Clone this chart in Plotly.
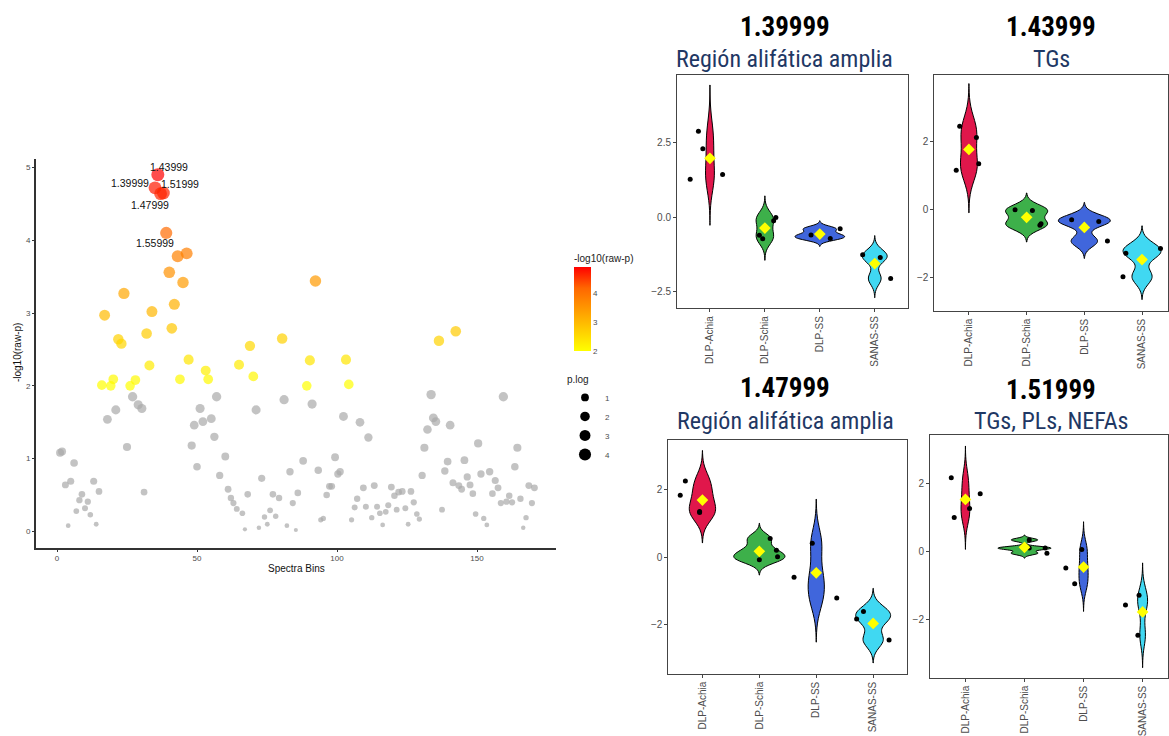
import numpy as np
import plotly.graph_objects as go

# ---------------- Data: Manhattan-style scatter ----------------
bins = [1.1, 1.8, 3.0, 4.0, 4.9, 6.1, 6.9, 8.0, 8.9, 10.0,
        11.0, 11.9, 13.1, 14.0, 15.0, 16.0, 17.0, 18.0, 19.2, 20.1,
        21.0, 21.9, 23.0, 23.9, 25.0, 26.1, 27.0, 28.0, 29.0, 30.3,
        31.1, 32.0, 33.0, 33.9, 35, 36, 37, 38, 39, 40.1,
        41.0, 41.9, 43.1, 43.9, 45.0, 46.3, 47.0, 48.1, 49.0, 50.0,
        51.1, 52.1, 53.1, 54.0, 55.1, 56.2, 57.0, 58.1, 60.1, 61.1,
        62.1, 63.0, 64.2, 65.0, 66.2, 67.1, 68.1, 68.9, 70.1, 71.1,
        72.1, 73.1, 74.1, 75.1, 76.1, 77.1, 78.1, 79.3, 80.4, 81.1,
        82.1, 83.2, 84.2, 85.3, 86.0, 87.9, 89.2, 90.3, 91.1, 92.3,
        93.3, 94.2, 95.1, 96.3, 97.3, 98.1, 99.3, 100.3, 101.1, 102.3,
        103.2, 104.2, 105.2, 106.3, 107.2, 108.2, 109.4, 110.3, 111.2, 112.4,
        113.3, 114.3, 115.3, 116.3, 117.4, 118.3, 119.4, 120.5, 121.3, 122.0,
        123.3, 124.4, 125.4, 126.4, 127.4, 128.5, 129.4, 130.4, 131.2, 132.3,
        133.6, 134.4, 135.3, 136.4, 137.5, 138.5, 139.5, 140.4, 141.4, 142.4,
        143.5, 144.5, 145.5, 146.5, 147.5, 148.5, 149.5, 150.4, 151.4, 152.4,
        153.5, 154.5, 155.5, 156.5, 157.5, 158.5, 159.4, 160.5, 161.5, 162.5,
        163.5, 164.4, 165.5, 166.5, 167.5, 168.5, 169.6, 170.5]
neglogp = [1.08, 1.10, 0.64, 0.08, 0.69, 0.94, 0.28, 0.43, 0.51, 0.32,
           0.41, 0.23, 0.69, 0.10, 0.55, 2.01, 2.97, 1.54, 2.00, 2.09,
           1.67, 2.64, 2.58, 3.27, 1.16, 2.00, 1.85, 2.08, 1.74, 1.69,
           0.54, 2.72, 2.28, 3.02, 4.72, 4.90, 4.64, 4.65, 4.10, 3.56,
           2.79, 3.12, 3.78, 2.09, 3.42, 3.82, 2.36, 1.18, 1.46, 0.89,
           1.69, 1.51, 2.21, 2.09, 1.55, 1.30, 1.85, 0.77, 1.03, 0.58,
           0.46, 0.39, 0.31, 2.29, 0.25, 0.03, 0.51, 2.55, 2.13, 1.67,
           0.05, 0.73, 0.20, 0.10, 0.29, 0.51, 0.21, 0.46, 2.65, 1.81,
           0.08, 0.82, 0.39, 0.02, 0.53, 0.97, 2.00, 2.35, 1.75, 3.44,
           0.84, 0.16, 0.18, 0.50, 0.62, 0.62, 1.02, 0.79, 0.82, 1.58,
           2.36, 2.02, 0.16, 0.33, 0.45, 1.50, 0.60, 0.34, 1.29, 0.19,
           0.63, 0.34, 0.25, 0.09, 0.27, 0.36, 0.61, 0.49, 0.30, 0.54,
           0.55, 0.32, 0.10, 0.55, 0.40, 0.24, 0.17, 0.77, 1.15, 1.40,
           1.88, 1.56, 1.51, 2.62, 0.30, 0.83, 0.96, 1.46, 0.67, 2.75,
           0.63, 0.58, 0.98, 0.75, 0.64, 0.52, 0.24, 1.21, 0.79, 0.18,
           0.09, 0.82, 0.52, 0.70, 0.60, 0.39, 1.85, 0.41, 0.49, 0.40,
           0.89, 1.15, 0.45, 0.05, 0.19, 0.63, 0.39, 0.60]
label_bins = [35, 36, 37, 38, 39]
label_text = ["1.39999", "1.43999", "1.47999", "1.51999", "1.55999"]
size_legend = [1, 2, 3, 4]
sig_threshold = 2.0

# ---------------- Data: violin panels ----------------
groups = ["DLP-Achia", "DLP-Schia", "DLP-SS", "SANAS-SS"]
panel_titles = ["1.39999", "1.43999", "1.47999", "1.51999"]
panel_subtitles = ["Región alifática amplia", "TGs", "Región alifática amplia", "TGs, PLs, NEFAs"]

p1_values = [[1.28, 2.90, 2.31, 1.44], [-0.61, -0.73, -0.12, -0.01],
             [-0.60, -0.72, -0.39], [-1.27, -1.36, -2.07]]
p2_values = [[2.44, 2.11, 1.34, 1.15], [-0.02, -0.04, -0.47, -0.43],
             [-0.31, -0.36, -0.94], [-1.30, -1.99, -1.16]]
p3_values = [[1.84, 2.27, 1.33, 1.36], [-0.08, 0.55, 0.20, 0.01],
             [-0.60, 0.41, -1.22], [-1.85, -1.62, -2.47]]
p4_values = [[2.18, 1.01, 1.28, 1.71], [0.35, 0.11, 0.11, -0.04],
             [-0.48, -0.94, 0.07], [-1.57, -1.28, -2.46]]

# horizontal jitter of the dots (presentation only)
p1_jitter = [[-0.36, -0.21, -0.13, 0.23], [-0.10, -0.04, 0.16, 0.20],
             [-0.16, 0.19, 0.37], [-0.22, 0.10, 0.29]]
p2_jitter = [[-0.16, 0.13, 0.17, -0.22], [-0.20, 0.10, 0.23, 0.25],
             [-0.22, 0.25, 0.40], [-0.28, -0.33, 0.32]]
p3_jitter = [[-0.39, -0.30, -0.05, -0.05], [0.0, 0.19, 0.30, 0.32],
             [-0.39, -0.07, 0.36], [-0.29, -0.17, 0.28]]
p4_jitter = [[-0.24, -0.19, 0.07, 0.25], [0.08, 0.08, 0.35, 0.38],
             [-0.30, -0.15, -0.03], [-0.29, -0.06, -0.08]]

# ---------------- Styling ----------------
W, H = 1169, 736
FONT = "Liberation Sans, Arial, sans-serif"
NARROW = "Roboto Condensed, Liberation Sans Narrow, Arial Narrow, Liberation Sans, sans-serif"
GRAY_TXT = "#4D4D4D"
violin_colors = ["#E0174B", "#3DB04A", "#4066DC", "#40D8F2"]
colorscale = [[0, "#FFFF00"], [0.25, "#FFCC00"], [0.5, "#FF9900"], [0.75, "#FF6600"], [1, "#FF0000"]]


def fx(px):
    return px / W


def fy(py):
    return 1 - py / H


def msize(v):
    return 3.5 + 4.3 * np.sqrt(np.asarray(v, dtype=float))


fig = go.Figure()

b = np.array(bins)
p = np.array(neglogp)
ns = p < sig_threshold
sg = ~ns

fig.add_trace(go.Scatter(
    x=b[ns], y=p[ns], mode="markers", xaxis="x", yaxis="y",
    marker=dict(color="#A9A9A9", size=msize(p[ns]), line=dict(width=0)),
    showlegend=False, hoverinfo="x+y"))
fig.add_trace(go.Scatter(
    x=b[sg], y=p[sg], mode="markers", xaxis="x", yaxis="y",
    marker=dict(color=p[sg], colorscale=colorscale, cmin=p[sg].min(), cmax=p[sg].max(),
                size=msize(p[sg]), line=dict(width=0),
                colorbar=dict(x=fx(574), xanchor="left", y=fy(354), yanchor="bottom",
                              len=100, lenmode="pixels", thickness=17, outlinewidth=0,
                              xpad=0, ypad=0, tickvals=[2, 3, 4], ticks="",
                              tickfont=dict(size=8, color=GRAY_TXT, family=FONT),
                              title=dict(text="-log10(raw-p)", side="top",
                                         font=dict(size=10, color="#222", family=FONT)))),
    showlegend=False, hoverinfo="x+y"))

# size legend entries
for v in size_legend:
    fig.add_trace(go.Scatter(
        x=[None], y=[None], mode="markers", xaxis="x", yaxis="y", name=str(v),
        marker=dict(color="black", size=float(msize(v))), showlegend=True))

# point labels
label_shift = {"1.39999": (-25, 5), "1.43999": (11, 8), "1.47999": (-11, -11),
               "1.51999": (17, 9), "1.55999": (-11, -10)}
for lb, lt in zip(label_bins, label_text):
    yv = p[list(bins).index(lb)]
    dx, dy = label_shift[lt]
    fig.add_annotation(x=lb, y=yv, xref="x", yref="y", text=lt, showarrow=False,
                       xanchor="center", yanchor="middle",
                       xshift=dx, yshift=dy, font=dict(size=10.5, color="#111", family=FONT))

# axis titles of scatter
fig.add_annotation(x=fx(296), y=fy(573), xref="paper", yref="paper", text="Spectra Bins",
                   xanchor="center", yanchor="middle",
                   showarrow=False, font=dict(size=10, color="#111", family=FONT))
fig.add_annotation(x=fx(17), y=fy(356), xref="paper", yref="paper", text="-log10(raw-p)",
                   xanchor="center", yanchor="middle",
                   textangle=-90, showarrow=False, font=dict(size=10, color="#111", family=FONT))

layout_axes = dict(
    xaxis=dict(domain=[fx(36), fx(556)], range=[-7.5, 178.2], tickvals=[0, 50, 100, 150],
               showline=True, linecolor="#333", linewidth=2, ticks="outside", ticklen=2,
               tickcolor="#333", showgrid=False, zeroline=False, anchor="y",
               tickfont=dict(size=8, color=GRAY_TXT, family=FONT)),
    yaxis=dict(domain=[fy(552), fy(160)], range=[-0.22, 5.12], tickvals=[0, 1, 2, 3, 4, 5],
               showline=True, linecolor="#333", linewidth=2, ticks="outside", ticklen=2,
               tickcolor="#333", showgrid=False, zeroline=False, anchor="x",
               tickfont=dict(size=8, color=GRAY_TXT, family=FONT)),
)

# ---------------- Violin panels ----------------
panels = [
    dict(vals=p1_values, jit=p1_jitter, xd=(677, 907.7), yd=(310.7, 76), xr=(-0.6, 3.6), yr=(-3.07, 4.78),
         dtick=2.5, fmt=".1f", tc=784.7, ty=27, sy=59),
    dict(vals=p2_values, jit=p2_jitter, xd=(934.3, 1168), yd=(313.3, 75.3), xr=(-0.6, 3.45), yr=(-2.99, 3.96),
         dtick=2, fmt="d", tc=1051, ty=27, sy=59),
    dict(vals=p3_values, jit=p3_jitter, xd=(668.3, 907.3), yd=(679.3, 443.3), xr=(-0.6, 3.6), yr=(-3.48, 3.50),
         dtick=2, fmt="d", tc=785, ty=391, sy=424),
    dict(vals=p4_values, jit=p4_jitter, xd=(930, 1168), yd=(683.3, 439), xr=(-0.6, 3.43), yr=(-3.71, 3.43),
         dtick=2, fmt="d", tc=1051, ty=393, sy=424),
]


def nrd0(v):
    v = np.asarray(v, dtype=float)
    sd = v.std(ddof=1)
    q1, q3 = np.percentile(v, [25, 75])
    lo = min(sd, (q3 - q1) / 1.34)
    if lo <= 0:
        lo = sd
    return 0.9 * lo * len(v) ** -0.2


for k, pn in enumerate(panels):
    ax = k + 2
    xa, ya = f"x{ax}", f"y{ax}"
    bws, peaks = [], []
    for vals in pn["vals"]:
        v = np.asarray(vals, dtype=float)
        bw = nrd0(v)
        grid = np.linspace(v.min() - 3 * bw, v.max() + 3 * bw, 512)
        dens = np.exp(-0.5 * ((grid[:, None] - v[None, :]) / bw) ** 2).sum(1) / (len(v) * bw * np.sqrt(2 * np.pi))
        bws.append(bw)
        peaks.append(dens.max())
    maxpeak = max(peaks)
    for g, vals in enumerate(pn["vals"]):
        v = np.asarray(vals, dtype=float)
        bw = bws[g]
        fig.add_trace(go.Violin(
            x=[g] * len(v), y=v, xaxis=xa, yaxis=ya, name=groups[g],
            bandwidth=bw, spanmode="manual", span=[v.min() - 3 * bw, v.max() + 3 * bw],
            width=0.9 * peaks[g] / maxpeak, scalemode="width",
            fillcolor=violin_colors[g], line=dict(color="black", width=1), opacity=1,
            points=False, box=dict(visible=False), meanline=dict(visible=False),
            hoverinfo="skip", showlegend=False))
    for g, vals in enumerate(pn["vals"]):
        fig.add_trace(go.Scatter(
            x=[g + j for j in pn["jit"][g]], y=vals, mode="markers", xaxis=xa, yaxis=ya,
            marker=dict(color="black", size=5), showlegend=False, hoverinfo="y"))
        fig.add_trace(go.Scatter(
            x=[g], y=[float(np.mean(vals))], mode="markers", xaxis=xa, yaxis=ya,
            marker=dict(color="#FFFF00", size=9, symbol="diamond", line=dict(width=0)),
            showlegend=False, hoverinfo="y"))

    layout_axes[f"xaxis{ax}"] = dict(
        domain=[fx(pn["xd"][0]), fx(pn["xd"][1])], range=list(pn["xr"]), anchor=ya,
        tickvals=[0, 1, 2, 3], ticktext=groups, tickangle=-90,
        tickfont=dict(size=10, color=GRAY_TXT, family=FONT),
        showline=True, mirror=True, linecolor="#444", linewidth=1,
        ticks="outside", ticklen=3, tickcolor="#444", showgrid=False, zeroline=False)
    layout_axes[f"yaxis{ax}"] = dict(
        domain=[fy(pn["yd"][0]), fy(pn["yd"][1])], range=list(pn["yr"]), anchor=xa,
        dtick=pn["dtick"], tick0=0, tickformat=pn["fmt"],
        tickfont=dict(size=10, color=GRAY_TXT, family=FONT),
        showline=True, mirror=True, linecolor="#444", linewidth=1,
        ticks="outside", ticklen=3, tickcolor="#444", showgrid=False, zeroline=False)

    fig.add_annotation(x=fx(pn["tc"]), y=fy(pn["ty"]), xref="paper", yref="paper",
                       xanchor="center", yanchor="middle",
                       text=f"<b>{panel_titles[k]}</b>", showarrow=False,
                       font=dict(size=27, color="black", family=NARROW))
    fig.add_annotation(x=fx(pn["tc"]), y=fy(pn["sy"]), xref="paper", yref="paper",
                       xanchor="center", yanchor="middle",
                       text=panel_subtitles[k], showarrow=False,
                       font=dict(size=24, color="#1F3864", family=NARROW))

fig.update_layout(
    width=W, height=H, margin=dict(l=0, r=0, t=0, b=0),
    paper_bgcolor="white", plot_bgcolor="white",
    violinmode="overlay",
    font=dict(family=FONT),
    legend=dict(x=fx(565), y=fy(373), xanchor="left", yanchor="top",
                title=dict(text="p.log", font=dict(size=10, color="#222", family=FONT)),
                font=dict(size=8, color=GRAY_TXT, family=FONT), itemsizing="trace",
                bgcolor="rgba(0,0,0,0)", tracegroupgap=0),
    **layout_axes,
)

fig.write_html("out.html", config={"displayModeBar": False},
               post_script="document.body.style.margin='0px';document.body.style.overflow='hidden';")
